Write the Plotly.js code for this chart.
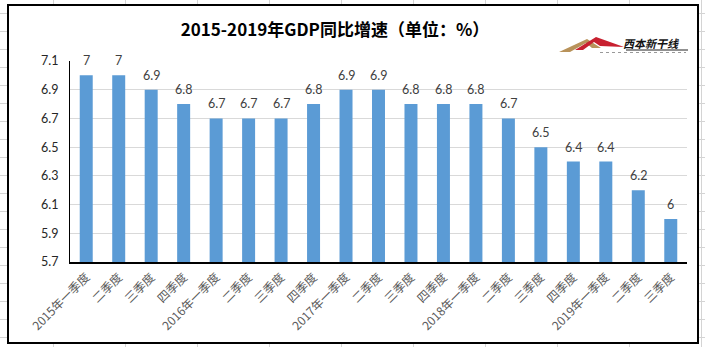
<!DOCTYPE html>
<html>
<head>
<meta charset="utf-8">
<script src="https://cdn.plot.ly/plotly-3.0.1.min.js"></script>
<style>
  html, body { margin:0; padding:0; width:705px; height:347px; overflow:hidden; }
  body {
    background-color:#fff;
    background-image:
      linear-gradient(to right, #d4d4d4 1px, transparent 1px),
      linear-gradient(to bottom, #d4d4d4 1px, transparent 1px);
    background-size:72px 18px;
    background-position:53px 13px;
  }
  #box {
    position:absolute; left:7px; top:4px; width:692px; height:340px;
    box-sizing:border-box; border:2px solid #000; background:#fff;
  }
  #chart { width:688px; height:336px; }
</style>
</head>
<body>
<div id="box"><div id="chart"></div></div>
<script>
// ---- data ----
const categories = ["2015年一季度","二季度","三季度","四季度",
                    "2016年一季度","二季度","三季度","四季度",
                    "2017年一季度","二季度","三季度","四季度",
                    "2018年一季度","二季度","三季度","四季度",
                    "2019年一季度","二季度","三季度"];
const gdpGrowth = [7,7,6.9,6.8, 6.7,6.7,6.7,6.8, 6.9,6.9,6.8,6.8, 6.8,6.7,6.5,6.4, 6.4,6.2,6];
const yTicks = [5.7,5.9,6.1,6.3,6.5,6.7,6.9,7.1];
const titleText = "2015-2019年GDP同比增速（单位：%）";
const logoText = "西本新干线";

// ---- layout helpers (page pixel -> paper coords for decoration) ----
const M = {l:61, r:10, t:55, b:80};
const W = 688, H = 336, OX = 9, OY = 6;
const pw = W - M.l - M.r, ph = H - M.t - M.b;
const px = x => (x - OX - M.l) / pw;
const py = y => 1 - (y - OY - M.t) / ph;

const idx = categories.map((c, i) => i);

const trace = {
  type:'bar',
  x: idx,
  y: gdpGrowth,
  width: 0.4,
  marker:{color:'#5B9BD5'},
  hoverinfo:'none'
};

const valueLabels = gdpGrowth.map((v, i) => ({
  xref:'x', yref:'y', x: idx[i], y: v,
  xanchor:'center', yanchor:'bottom', yshift:5,
  text: String(v), showarrow:false,
  font:{family:'Lato, "Noto Sans", sans-serif', size:12.5, color:'#404040'}
}));

function pathStr(pts){ return 'M' + pts.map(p => px(p[0]) + ',' + py(p[1])).join(' L') + ' Z'; }

const layout = {
  width: W, height: H,
  margin: M,
  paper_bgcolor:'#fff',
  plot_bgcolor:'#fff',
  showlegend:false,
  title:{
    text: titleText,
    font:{family:'"Noto Sans CJK SC", sans-serif', size:17, color:'#000', weight:'bold'},
    xref:'container', x:(335-OX)/W, xanchor:'center',
    yref:'container', y:1-(30-OY)/H, yanchor:'middle'
  },
  xaxis:{
    range:[-0.5, categories.length-0.5],
    tickvals: idx,
    ticktext: categories,
    tickangle:-45,
    tickfont:{family:'"Noto Sans CJK SC", sans-serif', size:12, color:'#595959'},
    showgrid:false, zeroline:false,
    showline:true, linecolor:'#000', linewidth:1.5,
    ticks:'', ticklabelstandoff:2, fixedrange:true
  },
  yaxis:{
    range:[5.7, 7.1],
    tickvals: yTicks,
    ticktext: yTicks.map(v => v.toFixed(1)),
    tickfont:{family:'Lato, "Noto Sans", sans-serif', size:12.5, color:'#262626'},
    showgrid:true, gridcolor:'#d9d9d9', gridwidth:1,
    zeroline:false,
    showline:true, linecolor:'#000', linewidth:1,
    ticks:'', ticklabelstandoff:8, fixedrange:true
  },
  shapes:[
    {type:'path', xref:'paper', yref:'paper', path:pathStr([[559,52],[587,39],[601,48],[592,48],[586,43],[570,52]]),
     fillcolor:'#b8925a', line:{width:0}},
    {type:'path', xref:'paper', yref:'paper', path:pathStr([[575,50],[596,37],[624,47],[600,46],[594,42],[583,50]]),
     fillcolor:'#c8202f', line:{width:0}},
    {type:'line', xref:'paper', yref:'paper', x0:px(626), x1:px(688), y0:py(50), y1:py(50), line:{color:'#222', width:1}},
    {type:'line', xref:'paper', yref:'paper', x0:px(600), x1:px(686), y0:py(52.5), y1:py(52.5), line:{color:'#999', width:1, dash:'dot'}}
  ],
  annotations: valueLabels.concat([
    {xref:'paper', yref:'paper', x:px(651), y:py(43), xanchor:'center', yanchor:'middle',
     text:'<b><i>'+logoText+'</i></b>', showarrow:false,
     font:{family:'"Noto Sans CJK SC", sans-serif', size:11, color:'#111'}}
  ])
};

Plotly.newPlot('chart', [trace], layout, {displayModeBar:false, staticPlot:true});
</script>
</body>
</html>
